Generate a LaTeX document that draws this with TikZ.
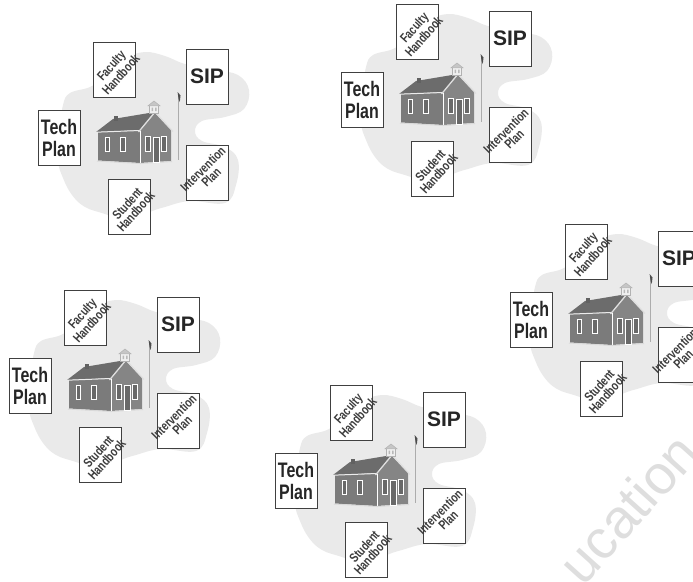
\documentclass[tikz,border=0pt]{standalone}
\usepackage{fontspec}
\setmainfont{Liberation Sans}
\definecolor{blobgray}{HTML}{EAEAEA}
\definecolor{wallgray}{HTML}{7B7B7B}
\definecolor{gablegray}{HTML}{858585}
\definecolor{roofgray}{HTML}{6C6C6C}
\definecolor{inkgray}{HTML}{262626}
\definecolor{markgray}{HTML}{DEDEDE}
% narrow setting for the small slanted document titles
\newcommand{\nar}[1]{\scalebox{0.77}[1]{#1}}
\begin{document}
\begin{tikzpicture}[x=1pt,y=-1pt,
  paper/.style={draw=black!75, fill=white, line width=0.9pt,
    minimum width=42pt, minimum height=55pt, inner sep=0pt},
  bigtext/.style={font=\fontsize{21}{22}\selectfont\bfseries, text=inkgray, align=center},
  smalltext/.style={font=\fontsize{13}{11.5}\selectfont\bfseries, text=inkgray!90, align=center, inner sep=0pt},
  trim/.style={white, line width=0.8pt},
  pane/.style={draw=white, line width=0.7pt, fill=wallgray!85!black}]
\useasboundingbox (0,0) rectangle (693,581);

% faint watermark lettering
\node[font=\fontsize{55}{55}\selectfont, text=markgray, rotate=48] (mark) at (628,508) {ucation};

\foreach \i/\dx/\dy in {1/0/0, 2/303/-38, 3/472/182, 4/-29/248, 5/237/343}{
\begin{scope}[shift={(\dx,\dy)}]
  % grey cloud behind the school
  \fill[blobgray] plot[smooth cycle, tension=0.65] coordinates {
    (92,86) (110,70) (125,58) (145,52) (165,56) (185,64) (215,70) (238,75)
    (249,90) (244,109) (225,117) (202,121) (195,131) (202,141) (225,147)
    (238,160) (236,185) (225,203) (190,201) (165,207) (150,212) (130,222)
    (105,214) (85,207) (72,195) (63,178) (58,160) (60,130) (63,105) (70,93)};

  % schoolhouse: roof, side wall, gable end
  \fill[roofgray] (96,132) -- (141,130) -- (155,112) -- (113,119) -- cycle;
  \fill[wallgray] (98,132) -- (140,130.5) -- (140,163) -- (98,160.5) -- cycle;
  \fill[gablegray] (140,130.5) -- (155,113) -- (171,129.5) -- (171,161) -- (140,163) -- cycle;
  \draw[white!85!gray, line width=1pt] (96,132.2) -- (140,130.5);
  \draw[white!75!gray, line width=1.3pt] (138.5,132) -- (155,112) -- (173,131.5);
  \draw[trim] (140,130.5) -- (140,163);
  \draw[white!70!gray, line width=1pt] (97,161) -- (140,163.5) -- (172,161.5);
  % chimney
  \fill[black!62] (114,115.5) rectangle (118,121);
  % cupola
  \filldraw[fill=gray!12, draw=gray!60, line width=0.5pt] (149.5,105.5) rectangle (158.5,113.5);
  \filldraw[fill=gray!45, draw=gray!60, line width=0.5pt] (148,105.8) -- (154,101) -- (160,105.8) -- cycle;
  \fill[gray!55] (151.5,107.5) rectangle (153,111) (155,107.5) rectangle (156.5,111);
  % windows and door
  \filldraw[pane] (105,137) rectangle (109,151.5);
  \filldraw[pane] (120.5,137) rectangle (125,151.5);
  \filldraw[pane] (145,136) rectangle (150,151);
  \filldraw[pane] (161.5,136) rectangle (166.5,151);
  \filldraw[pane] (153,137) rectangle (159,162);

  % flagpole with pennant
  \draw[gray!65, line width=1pt] (178,94) -- (178,160);
  \fill[black!70] (177.6,92) -- (180.5,95.5) -- (179.8,102) -- (178.6,99) -- cycle;

  % the five planning documents
  \node[paper] (fac\i) at (114.5,69.5) {};
  \node[smalltext, rotate=48] (facl\i) at (116,70) {\nar{Faculty}\\\nar{Handbook}};

  \node[paper, bigtext] (sip\i) at (207,76.5) {SIP};

  \node[paper, bigtext] (tech\i) at (59,137.5)
    {\scalebox{0.76}[1]{Tech}\\\scalebox{0.76}[1]{Plan}};

  \node[paper] (int\i) at (207,173) {};
  \node[smalltext, rotate=45] (intl\i) at (207,173) {\nar{Intervention}\\\nar{Plan}};

  \node[paper] (stu\i) at (129.5,207) {};
  \node[smalltext, rotate=48] (stul\i) at (131.5,207.5) {\nar{Student}\\\nar{Handbook}};
\end{scope}
}
\end{tikzpicture}
\end{document}
